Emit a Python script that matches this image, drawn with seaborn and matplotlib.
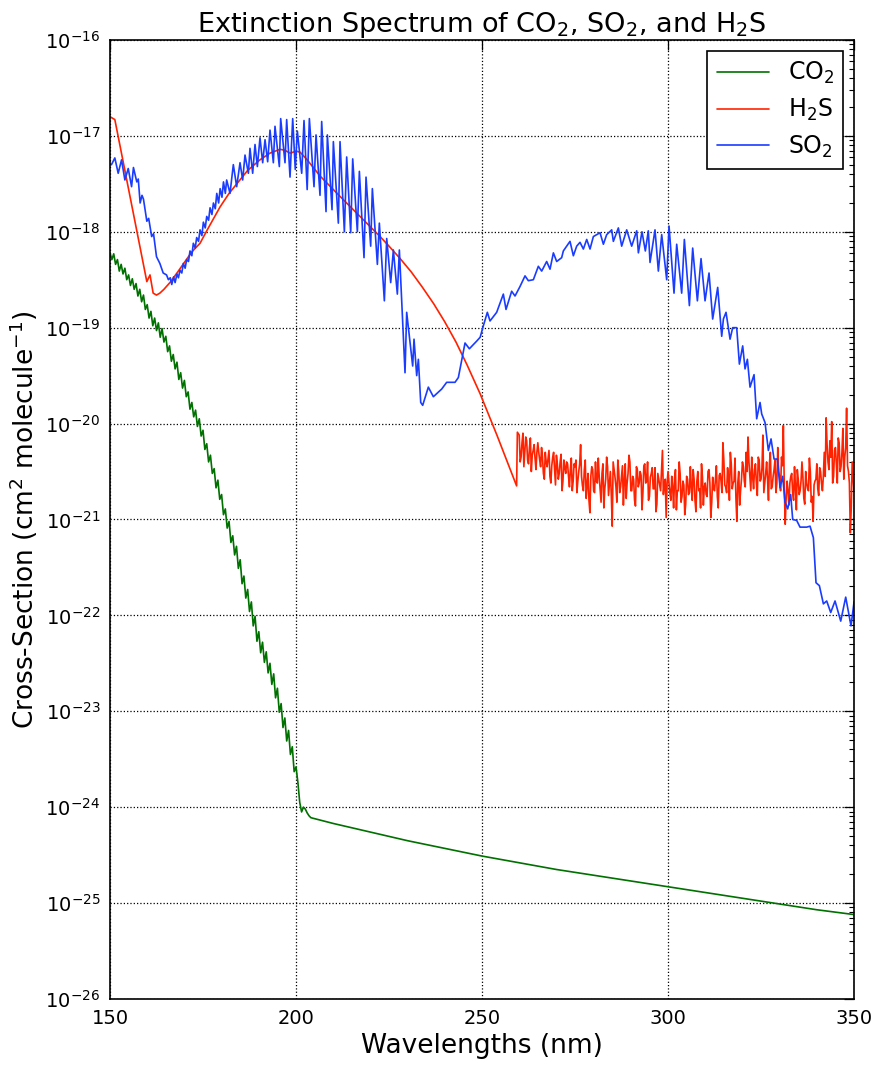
import numpy as np
import pandas as pd
import seaborn as sns
import matplotlib
matplotlib.use("Agg")
import matplotlib.pyplot as plt
from matplotlib.ticker import LogLocator, NullFormatter

# values, stored as log10(cross-section)

# CO2: noisy part sampled every 0.5 nm from 150 to 204 nm, then a smooth tail
co2_noisy_start = 150.0
co2_noisy_log = [
    -18.22, -18.29, -18.23, -18.34, -18.29, -18.41, -18.34, -18.44, -18.38, -18.50,
    -18.45, -18.56, -18.49, -18.60, -18.54, -18.67, -18.60, -18.73, -18.66, -18.81,
    -18.76, -18.90, -18.83, -18.98, -18.90, -19.03, -18.95, -19.10, -19.01, -19.15,
    -19.09, -19.25, -19.19, -19.35, -19.28, -19.43, -19.36, -19.54, -19.47, -19.63,
    -19.55, -19.72, -19.67, -19.85, -19.78, -19.93, -19.86, -20.03, -19.95, -20.13,
    -20.07, -20.27, -20.21, -20.40, -20.33, -20.52, -20.47, -20.67, -20.59, -20.79,
    -20.74, -20.95, -20.89, -21.09, -21.02, -21.24, -21.17, -21.37, -21.28, -21.51,
    -21.42, -21.67, -21.59, -21.82, -21.73, -21.96, -21.86, -22.11, -22.01, -22.27,
    -22.17, -22.39, -22.28, -22.49, -22.38, -22.60, -22.50, -22.72, -22.61, -22.86,
    -22.76, -23.01, -22.92, -23.17, -23.07, -23.31, -23.20, -23.45, -23.37, -23.63,
    -23.58, -23.74, -23.95, -24.05, -24.00, -24.02, -24.06, -24.09, -24.11,
]
co2_tail_wl = [210, 220, 230, 240, 250, 260, 270, 280, 290, 300, 310, 320, 330, 340, 350]
co2_tail_log = [-24.17, -24.26, -24.35, -24.43, -24.51, -24.58, -24.65, -24.71,
                -24.77, -24.83, -24.89, -24.95, -25.01, -25.07, -25.12]

# H2S: smooth continuum up to 259.5 nm, then noisy data
h2s_smooth_wl = [150.0, 151.3, 159.9, 160.75, 161.6, 162.5, 163.4, 164.5, 166.1, 168.0,
                 170.0, 172.0, 174.2, 176.0, 178.0, 179.6, 182.0, 184.9, 187.0, 190.3,
                 193.0, 195.7, 197.0, 198.4, 200.0, 201.1, 203.0, 206.5, 211.8, 217.2,
                 222.6, 225.0, 228.0, 231.0, 234.0, 237.0, 240.0, 243.0, 246.0, 249.5,
                 254.0, 259.3, 259.5]
h2s_smooth_log = [-16.80, -16.83, -18.52, -18.45, -18.64, -18.66, -18.64, -18.60, -18.53, -18.43,
                  -18.32, -18.21, -18.12, -17.99, -17.85, -17.74, -17.60, -17.46, -17.36, -17.25,
                  -17.18, -17.14, -17.15, -17.18, -17.16, -17.17, -17.25, -17.42, -17.63, -17.84,
                  -18.05, -18.15, -18.28, -18.42, -18.58, -18.75, -18.94, -19.15, -19.39, -19.69,
                  -20.12, -20.65, -20.09]
# noisy part, on whole/half nm (260.0 ... 350.0)
h2s_noisy_start = 260.0
h2s_noisy_log = [
    -20.12, -20.35, -20.10, -20.30, -20.18, -20.42, -20.15, -20.33, -20.22, -20.48, -20.20,
    -20.38, -20.25, -20.52, -20.30, -20.45, -20.28, -20.62, -20.35, -20.48, -20.33, -20.58,
    -20.40, -20.70, -20.38, -20.52, -20.42, -20.66, -20.36, -20.60, -20.45, -20.72,
    -20.50, -20.22, -20.65, -20.48, -20.78, -20.52, -20.93, -20.45, -20.70, -20.40,
    -20.62, -20.55, -20.82, -20.42, -20.68, -20.35, -20.75, -20.50, -21.07, -20.48,
    -20.66, -20.38, -20.72, -20.55, -20.85, -20.42, -20.62, -20.33, -20.70, -20.55,
    -20.80, -20.45, -20.66, -20.50, -20.90, -20.44, -20.62, -20.40, -20.76, -20.52,
    -20.68, -20.46, -20.84, -20.58, -20.70, -20.28, -20.62, -20.98,
    -20.50, -20.72, -20.55, -20.88, -20.48, -20.70, -20.40, -20.82, -20.60, -20.95,
    -20.55, -20.74, -20.45, -20.80, -20.58, -20.92, -20.50, -20.68, -20.42, -20.85,
    -20.62, -20.76, -20.48, -20.98, -20.56, -20.70, -20.44, -20.88, -20.52, -20.72,
    -20.38, -20.66, -20.46, -20.80, -20.42, -20.62, -20.36, -21.02, -20.50, -20.70, -20.40,
    -20.60, -20.30, -20.14, -20.55, -20.35, -20.68, -20.42, -20.75, -20.38, -20.58,
    -20.12, -20.62, -20.40, -20.80, -20.30, -20.66, -20.48, -20.72, -20.25, -20.56,
    -20.35, -20.02, -21.05, -20.60,
    -20.85, -20.55, -20.72, -20.45, -20.90, -20.58, -20.70, -20.40, -20.78, -20.50,
    -20.68, -20.36, -20.82, -21.02, -20.60, -20.42, -20.75, -20.50, -20.70,
    -20.30, -19.94, -20.40, -20.18, -19.98, -20.55, -20.25, -20.62, -20.20, -20.45,
    -20.05, -20.35, -19.84, -20.50, -21.14, -20.40, -20.70,
]
# noisy part, quarter points in between (260.25 ... 349.75)
h2s_mid_start = 260.25
h2s_mid_log = [
    -20.40, -20.20, -20.45, -20.14, -20.38, -20.25, -20.50, -20.28, -20.36, -20.30,
    -20.30, -20.45, -20.35, -20.58, -20.40, -20.36, -20.55, -20.44, -20.30, -20.64,
    -20.42, -20.52, -20.32, -20.60, -20.46, -20.40, -20.55, -20.48, -20.70, -20.42, -20.38,
    -20.60, -20.42, -20.55, -20.70, -20.38, -20.64, -20.80, -20.55, -20.48, -20.72,
    -20.60, -20.36, -20.68, -20.52, -20.88, -20.58, -20.45, -20.62, -20.74, -20.40,
    -20.56, -20.82, -20.50, -20.66, -20.44, -20.60, -20.78, -20.52, -20.40, -20.70,
    -20.58, -20.86, -20.48, -20.62, -20.54, -20.72, -20.42, -20.60, -20.80, -20.56,
    -20.46, -20.68, -20.92, -20.52, -20.64, -20.50, -20.74, -20.58, -20.62,
    -20.62, -20.80, -20.66, -20.58, -20.90, -20.70, -20.52, -20.76, -20.64, -20.84,
    -20.58, -20.72, -20.66, -20.48, -20.80, -20.60, -20.70, -20.88, -20.56, -20.66,
    -20.74, -20.50, -20.62, -20.82, -20.68, -20.58, -20.76, -20.54, -20.60, -20.20,
    -20.64, -20.72, -20.55, -20.30, -20.68, -20.60, -20.78, -20.62, -20.85, -20.58,
    -20.45, -20.66, -20.50, -20.40, -20.70, -20.56, -20.48, -20.62, -20.35, -20.60,
    -20.46, -20.72, -20.52, -20.58, -20.42, -20.68, -20.55, -20.38, -20.62, -20.50,
    -20.70, -20.44, -20.66, -20.78,
    -20.70, -20.62, -20.52, -20.80, -20.66, -20.48, -20.74, -20.60, -20.56, -20.84,
    -20.62, -20.70, -20.50, -20.76, -20.64, -20.58, -20.68, -20.46, -20.62, -20.55,
    -20.55, -20.22, -20.48, -20.35, -20.62, -20.28, -20.42, -20.15, -20.50, -20.30,
    -20.58, -20.25, -20.44, -20.62, -20.88, -20.55,
]

# SO2: peaks and troughs of the band structure
so2_wl = [
    150.0, 150.4, 151.3, 152.2, 153.1, 154.0, 154.9, 155.8, 156.3, 157.2, 157.6, 158.1,
    158.6, 159.0, 159.9, 160.4, 161.2, 161.7, 162.5, 163.4, 164.3, 165.2, 165.7, 166.2,
    166.6, 167.1, 167.5, 168.0, 168.4, 168.8, 169.3, 169.7, 170.2, 170.6, 171.1, 171.5,
    172.0, 172.4, 172.9, 173.3, 173.8, 174.2, 174.7, 175.1, 175.6, 176.0, 176.5, 176.9,
    177.4, 177.8, 178.3, 178.7, 179.2, 179.6, 180.1, 180.5, 181.0,
    181.36, 182.26, 183.15, 184.05, 184.95, 185.66, 186.29, 187.19, 187.63, 188.35,
    188.98, 189.61, 190.32, 191.04, 191.67, 192.38, 193.01, 193.91, 194.35, 195.52,
    195.88, 197.04, 197.49,
    198.39, 199.11, 199.8, 200.36, 201.53, 202.15, 203.0, 203.59, 204.84, 205.38,
    206.45, 206.9, 208.07, 208.43, 209.68, 210.04, 211.38, 211.83, 213.0, 213.62,
    214.7, 215.24, 216.49, 217.03, 218.28, 218.82, 220.07, 220.52, 221.87, 222.4,
    223.75, 224.38, 225.45, 226.17, 227.24, 227.78, 229.3, 229.75, 231.36, 231.72,
    232.44, 232.89, 233.52, 234.05,
    235.57, 236.92, 239.16, 240.5, 242.74, 243.64, 245.43, 246.6, 248.57, 249.5,
    250.36, 251.43, 252.15, 253.94, 255.73, 256.45, 257.97, 258.87, 260.22, 261.56,
    262.45, 263.8, 265.14, 266.04, 267.38, 268.28, 269.18, 270.07, 271.41, 271.86,
    273.65, 274.55, 275.45, 276.34, 277.24, 278.14, 279.03, 279.93, 281.72, 282.62,
    283.51, 284.86, 285.3, 286.65, 287.54, 288.89, 290.23, 291.58, 292.03, 293.0,
    293.9, 294.7, 295.16, 296.5, 297.4, 298.3, 299.64, 300.27,
    301.61, 302.33, 303.67, 304.39, 305.74, 306.63, 307.89, 308.87, 309.95, 311.02,
    312.0, 313.35, 314.43, 314.88, 315.59, 316.67, 317.38, 318.46, 319.18, 320.07,
    320.7, 321.33, 322.04, 323.12, 323.83, 324.73, 325.18, 326.08, 326.97, 327.69,
    328.5, 329.39, 330.11, 330.82, 331.45, 332.17, 332.97, 333.51, 334.58, 335.48,
    337.27, 338.17, 339.07, 339.78, 340.68, 341.76, 342.65, 343.73, 344.89, 346.42,
    347.76, 349.19, 350.0,
]
so2_log = [
    -17.30, -17.30, -17.23, -17.39, -17.25, -17.46, -17.34, -17.53, -17.33, -17.48, -17.45, -17.70,
    -17.62, -17.66, -17.89, -17.86, -18.05, -18.02, -18.26, -18.33, -18.43, -18.45, -18.50, -18.48,
    -18.55, -18.47, -18.53, -18.44, -18.48, -18.40, -18.43, -18.33, -18.38, -18.29, -18.31, -18.20,
    -18.25, -18.12, -18.17, -18.06, -18.10, -17.98, -18.04, -17.90, -17.96, -17.84, -17.88, -17.75,
    -17.82, -17.70, -17.76, -17.60, -17.70, -17.55, -17.64, -17.48, -17.60,
    -17.46, -17.60, -17.30, -17.53, -17.28, -17.46, -17.20, -17.39, -17.13, -17.39,
    -17.09, -17.32, -17.02, -17.28, -17.04, -17.27, -16.94, -17.28, -16.90, -17.32,
    -16.82, -17.28, -16.83,
    -17.43, -16.82, -17.35, -16.95, -17.39, -16.84, -17.56, -16.82, -17.53, -16.99,
    -17.62, -16.85, -17.79, -16.99, -17.77, -17.06, -17.91, -17.06, -18.00, -17.22,
    -18.01, -17.24, -18.00, -17.37, -18.27, -17.43, -18.15, -17.55, -18.34, -17.91,
    -18.72, -18.07, -18.53, -18.19, -18.65, -18.19, -19.47, -18.84, -19.40, -19.12,
    -19.50, -19.33, -19.78, -19.81,
    -19.62, -19.72, -19.64, -19.57, -19.57, -19.52, -19.16, -19.22, -19.14, -19.10,
    -18.98, -18.84, -18.93, -18.84, -18.65, -18.81, -18.62, -18.67, -18.57, -18.46,
    -18.51, -18.50, -18.36, -18.41, -18.31, -18.39, -18.22, -18.31, -18.27, -18.20,
    -18.10, -18.25, -18.15, -18.11, -18.18, -18.08, -18.18, -18.05, -18.01, -18.13,
    -18.03, -17.98, -18.10, -17.96, -18.15, -17.98, -18.15, -17.99, -18.22, -18.00,
    -18.20, -17.99, -18.32, -17.98, -18.41, -18.03, -18.50, -17.94,
    -18.64, -18.13, -18.64, -18.08, -18.77, -18.17, -18.72, -18.28, -18.72, -18.43,
    -18.91, -18.58, -19.09, -18.91, -18.84, -19.12, -19.00, -19.00, -19.38, -19.19,
    -19.43, -19.33, -19.62, -19.49, -19.95, -19.78, -19.90, -19.99, -20.28, -20.16,
    -20.37, -20.37, -20.67, -20.55, -20.82, -20.89, -20.74, -21.00, -21.01, -21.08,
    -21.08, -21.07, -21.19, -21.66, -21.69, -21.88, -21.85, -21.97, -21.85, -22.06,
    -21.81, -22.11, -21.86,
]

gas_order = ["CO$_2$", "H$_2$S", "SO$_2$"]
gas_colors = ["#007000", "#ff2200", "#1a3cff"]

co2_wl = list(co2_noisy_start + 0.5 * np.arange(len(co2_noisy_log))) + co2_tail_wl
co2_log = co2_noisy_log + co2_tail_log
h2s_wl = (h2s_smooth_wl
          + list(h2s_noisy_start + 0.5 * np.arange(len(h2s_noisy_log)))
          + list(h2s_mid_start + 0.5 * np.arange(len(h2s_mid_log))))
h2s_log = h2s_smooth_log + h2s_noisy_log + h2s_mid_log

frames = []
for name, wl, lg in [(gas_order[0], co2_wl, co2_log),
                     (gas_order[1], h2s_wl, h2s_log),
                     (gas_order[2], so2_wl, so2_log)]:
    frames.append(pd.DataFrame({"wavelength": wl,
                                "sigma": np.power(10.0, np.array(lg)),
                                "gas": name}))
df = pd.concat(frames, ignore_index=True)

sns.set_style("white")
plt.rcParams["font.family"] = ["DejaVu Sans"]
plt.rcParams["mathtext.fontset"] = "dejavusans"
for key in ["text.color", "axes.labelcolor", "xtick.color", "ytick.color"]:
    plt.rcParams[key] = "black"

fig = plt.figure(figsize=(8.8, 10.66), dpi=100)
ax = fig.add_axes([0.125, 0.0629, 0.8455, 0.8996])

sns.lineplot(data=df, x="wavelength", y="sigma", hue="gas", hue_order=gas_order,
             palette=gas_colors, estimator=None, sort=True, linewidth=1.2, ax=ax)

ax.set_yscale("log")
ax.set_xlim(150, 350)
ax.set_xticks([150, 200, 250, 300, 350])
ax.set_yticks([10.0 ** e for e in range(-26, -15)])
ax.yaxis.set_minor_locator(LogLocator(base=10, subs=np.arange(2, 10), numticks=20))
ax.yaxis.set_minor_formatter(NullFormatter())
ax.set_ylim(1e-26, 1e-16)

ax.grid(True, which="major", color="k", linestyle=":", linewidth=0.9)
ax.tick_params(which="both", direction="in", top=True, right=True, colors="k")
ax.tick_params(which="major", length=7, width=0.9, labelsize=14, pad=7)
ax.tick_params(which="minor", length=3.5, width=0.8)
for sp in ax.spines.values():
    sp.set_color("k")
    sp.set_linewidth(1.2)

ax.set_title("Extinction Spectrum of CO$_2$, SO$_2$, and H$_2$S", fontsize=19.5, pad=6)
ax.set_xlabel("Wavelengths (nm)", fontsize=19, labelpad=4)
ax.set_ylabel("Cross-Section (cm$^2$ molecule$^{-1}$)", fontsize=19, labelpad=4)

leg = ax.legend(loc="upper right", fontsize=17, frameon=True, fancybox=False,
                edgecolor="k", framealpha=1, handlelength=2.2, borderaxespad=0.45,
                labelspacing=0.45)
leg.get_frame().set_linewidth(1.2)

fig.savefig("out.png", dpi=100, facecolor="white")
